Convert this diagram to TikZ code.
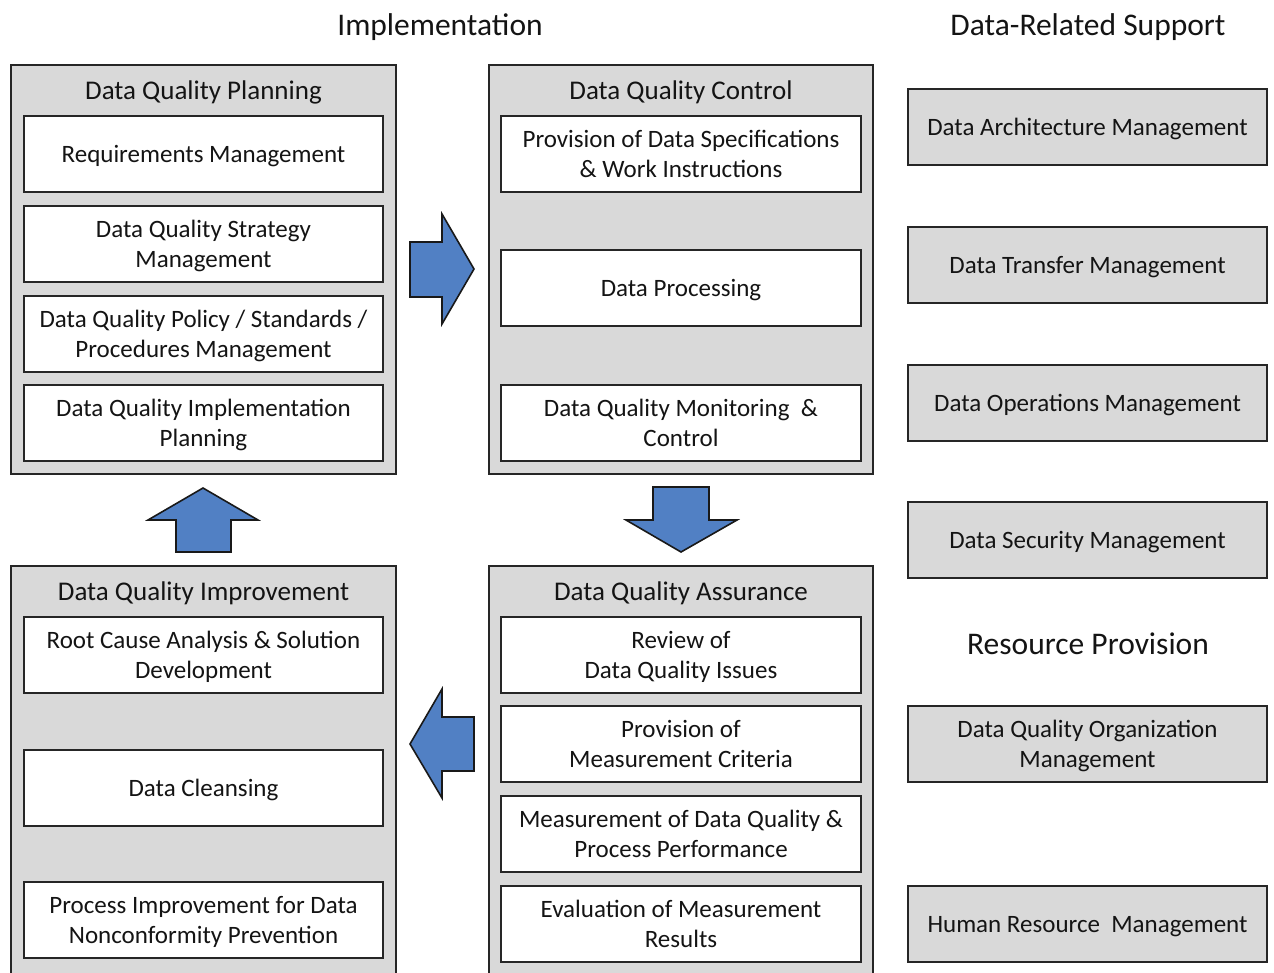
\documentclass[tikz,border=0pt]{standalone}
\usepackage{fontspec}
\setmainfont{Carlito}
\definecolor{boxgray}{RGB}{217,217,217}
\definecolor{arrowblue}{RGB}{81,128,196}
\definecolor{txt}{RGB}{20,20,20}
\begin{document}
\begin{tikzpicture}[x=1pt,y=-1pt,
  every node/.style={text=txt},
  outerbox/.style={draw=black!85, fill=boxgray, line width=2pt},
  innerbox/.style={draw=black!85, fill=white, line width=2pt, minimum width=359pt, minimum height=76pt, inner sep=0pt, align=center, text depth=0pt, font=\fontsize{25}{30}\selectfont},
  sidebox/.style={draw=black!85, fill=boxgray, line width=2pt, minimum width=359pt, minimum height=76pt, inner sep=0pt, align=center, text depth=0pt, font=\fontsize{25}{30}\selectfont},
  boxtitle/.style={font=\fontsize{27}{30}\selectfont, inner sep=0pt},
  headtitle/.style={font=\fontsize{31.5}{34}\selectfont, inner sep=0pt},
  blockarrow/.style={draw=black!90, fill=arrowblue, line width=1.6pt, line join=miter}
]
\useasboundingbox (0,0) rectangle (1274,972);
\clip (0,0) rectangle (1274,972);
\fill[white] (0,0) rectangle (1274,972);

% headings
\node[headtitle] (himpl) at (440,27) {Implementation};
\node[headtitle] (hsupp) at (1088,27) {Data-Related Support};
\node[headtitle] (hres) at (1088,644) {Resource Provision};

% outer boxes
\draw[outerbox] (11,65) rectangle (396,474);
\draw[outerbox] (489,65) rectangle (873,474);
\draw[outerbox] (11,566) rectangle (396,990);
\draw[outerbox] (489,566) rectangle (873,990);

\node[boxtitle] (tplan) at (203.5,92) {Data Quality Planning};
\node[boxtitle] (tctrl) at (681,92) {Data Quality Control};
\node[boxtitle] (timpr) at (203.5,593) {Data Quality Improvement};
\node[boxtitle] (tassu) at (681,593) {Data Quality Assurance};

% planning
\node[innerbox] (p1) at (203.5,154) {Requirements Management};
\node[innerbox] (p2) at (203.5,244) {Data Quality Strategy\\Management};
\node[innerbox] (p3) at (203.5,333.5) {Data Quality Policy / Standards /\\Procedures Management};
\node[innerbox] (p4) at (203.5,423) {Data Quality Implementation\\Planning};

% control
\node[innerbox, minimum width=360pt] (c1) at (681,154) {Provision of Data Specifications\\\& Work Instructions};
\node[innerbox, minimum width=360pt] (c2) at (681,288) {Data Processing};
\node[innerbox, minimum width=360pt] (c3) at (681,423) {Data Quality Monitoring~ \&\\Control};

% improvement
\node[innerbox] (i1) at (203.5,655) {Root Cause Analysis \& Solution\\Development};
\node[innerbox] (i2) at (203.5,788) {Data Cleansing};
\node[innerbox] (i3) at (203.5,920) {Process Improvement for Data\\Nonconformity Prevention};

% assurance
\node[innerbox, minimum width=360pt] (a1) at (681,655) {Review of\\Data Quality Issues};
\node[innerbox, minimum width=360pt] (a2) at (681,744) {Provision of\\Measurement Criteria};
\node[innerbox, minimum width=360pt] (a3) at (681,834) {Measurement of Data Quality \&\\Process Performance};
\node[innerbox, minimum width=360pt] (a4) at (681,924) {Evaluation of Measurement\\Results};

% side boxes
\node[sidebox] (s1) at (1087.5,127) {Data Architecture Management};
\node[sidebox] (s2) at (1087.5,265) {Data Transfer Management};
\node[sidebox] (s3) at (1087.5,403) {Data Operations Management};
\node[sidebox] (s4) at (1087.5,540) {Data Security Management};
\node[sidebox] (s5) at (1087.5,744) {Data Quality Organization\\Management};
\node[sidebox] (s6) at (1087.5,924) {Human Resource~ Management};

% block arrows
\draw[blockarrow] (410,242) -- (442,242) -- (442,214) -- (474,269) -- (442,324) -- (442,297) -- (410,297) -- cycle;
\draw[blockarrow] (653,487) -- (709,487) -- (709,520) -- (737,520) -- (681,552) -- (626,520) -- (653,520) -- cycle;
\draw[blockarrow] (474,717) -- (442,717) -- (442,689) -- (410,744) -- (442,798) -- (442,771) -- (474,771) -- cycle;
\draw[blockarrow] (176,552) -- (176,520) -- (148,520) -- (203,488) -- (258,520) -- (231,520) -- (231,552) -- cycle;
\end{tikzpicture}
\end{document}
